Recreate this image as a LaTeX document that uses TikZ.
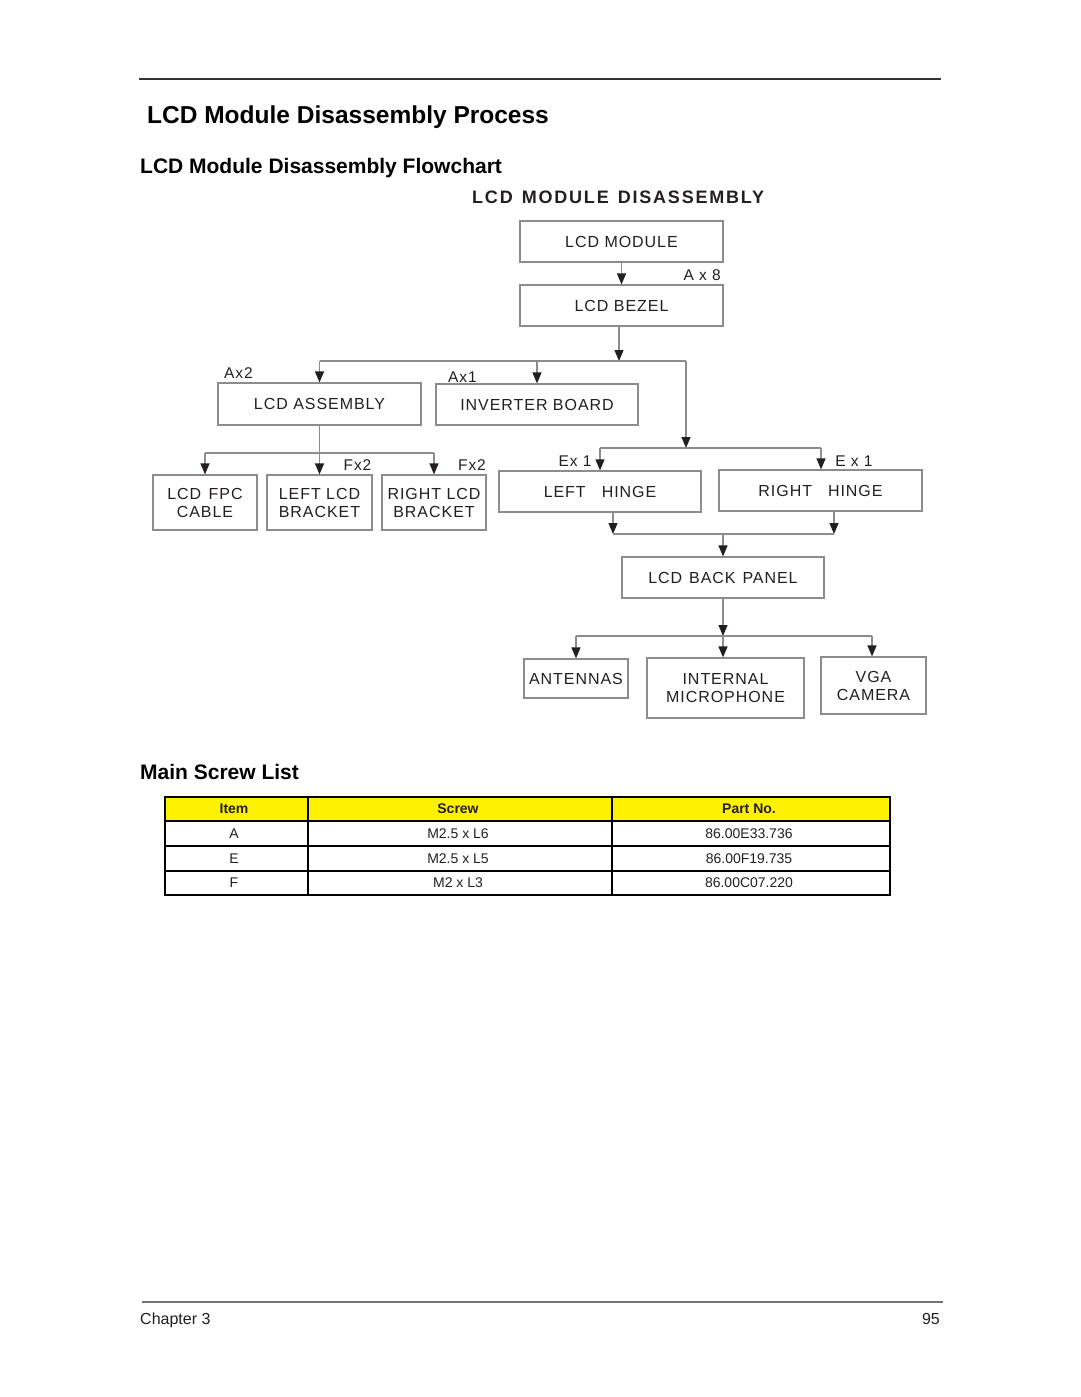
\documentclass[tikz,border=0pt]{standalone}
\usepackage{fontspec}
\setmainfont{Liberation Sans}
\newfontfamily\bx[LetterSpace=6]{Liberation Sans}
\newfontfamily\hdr[LetterSpace=10]{Liberation Sans}
\usetikzlibrary{arrows.meta}
\definecolor{txt}{HTML}{231F20}
\definecolor{boxgray}{HTML}{8C8C8C}
\definecolor{linegray}{HTML}{8C8C8C}
\begin{document}
\begin{tikzpicture}[x=1pt,y=-1pt,
  box/.style={draw=boxgray, line width=1.2pt, inner sep=0pt, align=center,
    text=txt, font=\bx\fontsize{16}{18}\selectfont},
  lbl/.style={inner sep=0pt, text=txt, font=\bx\fontsize{15.5}{18}\selectfont},
  ln/.style={draw=linegray, line width=1.2pt},
  arr/.style={draw=linegray, line width=1.2pt,
    -{Triangle[width=9pt,length=11pt,color=txt]}},
  tbl/.style={draw=black, line width=1.2pt},
  tcell/.style={inner sep=0pt, text=txt, font=\fontsize{14}{16}\selectfont},
  thead/.style={inner sep=0pt, text=txt, font=\bfseries\fontsize{14}{16}\selectfont},
  head/.style={anchor=base west, inner sep=0pt, text=black}
]
\useasboundingbox (0,0) rectangle (1080,1397);
\fill[white] (0,0) rectangle (1080,1397);

% page rules and headings
\coordinate (tl) at (139,79);
\coordinate (tr) at (941,79);
\draw[draw=black!80, line width=1.3pt] (tl) -- (tr);
\coordinate (bl) at (142,1302);
\coordinate (br) at (943,1302);
\draw[draw=black!55, line width=1.8pt] (bl) -- (br);

\node[head, font=\bfseries\fontsize{24.5}{28}\selectfont] (title) at (147,123) {LCD Module Disassembly Process};
\node[head, font=\bfseries\fontsize{21}{24}\selectfont] (sub) at (140,173.5) {LCD Module Disassembly Flowchart};
\node[head, text=txt, font=\hdr\bfseries\fontsize{18}{20}\selectfont] (fct) at (472,203.5) {LCD\hspace{9pt}MODULE\hspace{9pt}DISASSEMBLY};
\node[head, font=\bfseries\fontsize{21}{24}\selectfont] (msl) at (140,779.5) {Main Screw List};

% boxes
\node[box, minimum width=203pt, minimum height=41pt] (mod) at (621.5,241.5) {LCD MODULE};
\node[box, minimum width=203pt, minimum height=41pt] (bez) at (621.5,305.5) {LCD BEZEL};
\node[box, minimum width=203pt, minimum height=42pt] (asm) at (319.5,404) {LCD ASSEMBLY};
\node[box, minimum width=202pt, minimum height=41pt] (inv) at (537,404.5) {INVERTER BOARD};
\node[box, minimum width=104pt, minimum height=55pt] (fpc) at (205,502.5) {LCD\ \hspace{2pt}FPC\\CABLE};
\node[box, minimum width=105pt, minimum height=55pt] (lb) at (319.5,502.5) {LEFT LCD\\BRACKET};
\node[box, minimum width=104pt, minimum height=55pt] (rb) at (434,502.5) {RIGHT LCD\\BRACKET};
\node[box, minimum width=202pt, minimum height=41pt] (lh) at (600,491.5) {LEFT\hspace{16pt}HINGE};
\node[box, minimum width=203pt, minimum height=41pt] (rh) at (820.5,490.5) {RIGHT\hspace{16pt}HINGE};
\node[box, minimum width=202pt, minimum height=41pt] (bp) at (723,577.5) {LCD\ \hspace{1.5pt}BACK\ \hspace{1.5pt}PANEL};
\node[box, minimum width=104pt, minimum height=39pt] (ant) at (576,678.5) {ANTENNAS};
\node[box, minimum width=157pt, minimum height=60pt] (mic) at (725.5,688) {INTERNAL\\MICROPHONE};
\node[box, minimum width=105pt, minimum height=57pt] (cam) at (873.5,685.5) {VGA\\CAMERA};

% labels
\node[lbl, anchor=east] (la8) at (721,275) {A x 8};
\node[lbl] (la2) at (238.5,373) {Ax2};
\node[lbl] (la1) at (462.5,377) {Ax1};
\node[lbl] (lf1) at (357.5,465) {Fx2};
\node[lbl] (lf2) at (472,465) {Fx2};
\node[lbl] (le1) at (575,461) {Ex 1};
\node[lbl] (le2) at (854,461) {E x 1};

% junction coordinates
\coordinate (j1) at (619,361);
\coordinate (j2) at (686,361);
\coordinate (j3) at (686,448);
\coordinate (h1) at (600,448);
\coordinate (h2) at (821,448);
\coordinate (n1) at (320,453);
\coordinate (k1) at (613,534);
\coordinate (k2) at (834,534);
\coordinate (m1) at (723,636);
\coordinate (m2) at (872,636);

% connectors
\draw[arr] (mod.south) -- (bez.north);
\draw[arr] (j1 |- bez.south) -- (j1);
\draw[ln] (asm.north |- j1) -- (j2);
\draw[arr] (asm.north |- j1) -- (asm.north);
\draw[arr] (inv.north |- j1) -- (inv.north);
\draw[arr] (j2) -- (j3);
\draw[ln] (h1) -- (h2);
\draw[arr] (h1) -- (h1 |- lh.north);
\draw[arr] (h2) -- (h2 |- rh.north);

\draw[ln] (fpc.north |- n1) -- (rb.north |- n1);
\draw[arr] (asm.south) -- (lb.north);
\draw[arr] (fpc.north |- n1) -- (fpc.north);
\draw[arr] (rb.north |- n1) -- (rb.north);

\draw[arr] (k1 |- lh.south) -- (k1);
\draw[arr] (k2 |- rh.south) -- (k2);
\draw[ln] (k1) -- (k2);
\draw[arr] (bp.north |- k1) -- (bp.north);

\draw[arr] (bp.south) -- (m1);
\draw[ln] (ant.north |- m1) -- (m2);
\draw[arr] (ant.north |- m1) -- (ant.north);
\draw[arr] (m1) -- (m1 |- mic.north);
\draw[arr] (m2) -- (m2 |- cam.north);

% table
\fill[yellow] (165,797) rectangle (890,821);
\draw[tbl] (165,797) rectangle (890,895);
\foreach \yy in {821,846,871} \draw[tbl] (165,\yy) -- (890,\yy);
\foreach \xx in {308,612} \draw[tbl] (\xx,797) -- (\xx,895);

\node[thead] (h-item) at (234,808.5) {Item};
\node[thead] (h-screw) at (458,808.5) {Screw};
\node[thead] (h-part) at (749,808.5) {Part No.};
\node[tcell] (a1) at (234,833.5) {A};
\node[tcell] (a2) at (458,833.5) {M2.5 x L6};
\node[tcell] (a3) at (749,833.5) {86.00E33.736};
\node[tcell] (e1) at (234,858.5) {E};
\node[tcell] (e2) at (458,858.5) {M2.5 x L5};
\node[tcell] (e3) at (749,858.5) {86.00F19.735};
\node[tcell] (f1) at (234,883) {F};
\node[tcell] (f2) at (458,883) {M2 x L3};
\node[tcell] (f3) at (749,883) {86.00C07.220};

% footer
\node[anchor=base west, inner sep=0pt, text=txt, font=\fontsize{16}{18}\selectfont] (chap) at (140,1324) {Chapter 3};
\node[anchor=base east, inner sep=0pt, text=txt, font=\fontsize{16}{18}\selectfont] (pg) at (940,1324) {95};
\end{tikzpicture}
\end{document}
